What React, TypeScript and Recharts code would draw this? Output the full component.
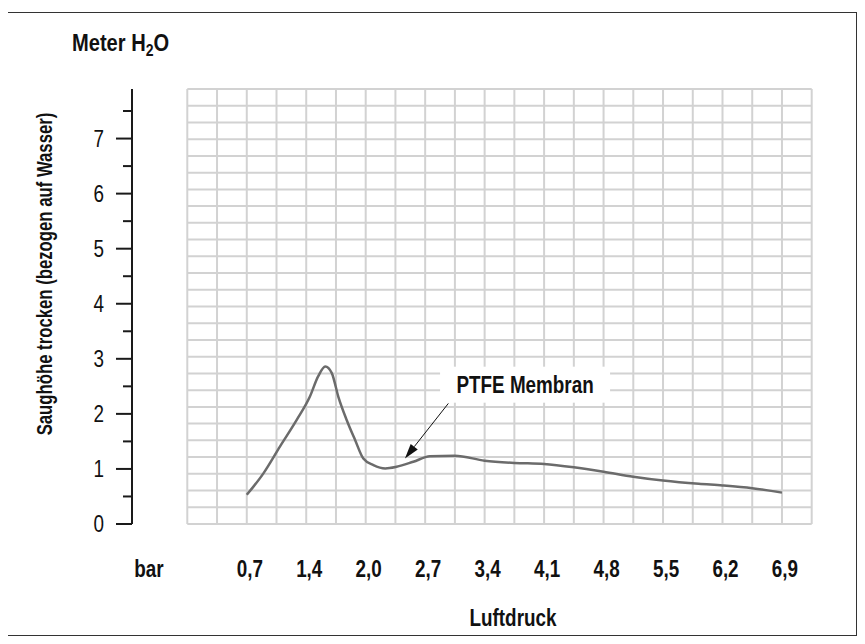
import React from 'react';
import {
  LineChart, Line, XAxis, YAxis, CartesianGrid, ReferenceLine, ReferenceDot,
} from 'recharts';

// Luftdruck in psi (equal steps), shown as bar labels
const druckPsi = [10, 12.8, 15.6, 18.4, 20.6, 22.0, 23.2, 24.3, 25.4, 26.8, 28.2, 29.6, 31.3, 33.3, 35.2, 38.0, 40.8, 45, 50, 55, 60, 65, 70, 75, 80, 86, 90, 95, 100];
// Saughöhe trocken, Meter H2O
const saughoehe = [0.53, 0.92, 1.41, 1.89, 2.31, 2.68, 2.86, 2.74, 2.31, 1.89, 1.53, 1.19, 1.07, 1.01, 1.04, 1.13, 1.23, 1.24, 1.15, 1.11, 1.09, 1.03, 0.95, 0.86, 0.79, 0.73, 0.70, 0.65, 0.57];

const xTicks = [10, 20, 30, 40, 50, 60, 70, 80, 90, 100];
const xLabels = ['0,7', '1,4', '2,0', '2,7', '3,4', '4,1', '4,8', '5,5', '6,2', '6,9'];
const yTicks = [0, 0.5, 1, 1.5, 2, 2.5, 3, 3.5, 4, 4.5, 5, 5.5, 6, 6.5, 7, 7.5];
const GRID_COLS = 21;
const GRID_ROWS = 26;

// annotation anchor points (psi, m)
const labelAt = { x: 56.8, y: 2.53 };
const arrowFrom = { x: 43.9, y: 2.19 };
const arrowTo = { x: 36.6, y: 1.19 };

const data = druckPsi.map((p, i) => ({ p, h: saughoehe[i] }));

const W = 849;
const H = 628;
const MARGIN = { top: 81, right: 45.3, bottom: 52, left: 64 };
const FONT = "'Liberation Sans', Arial, sans-serif";
const SQ = 0.82; // horizontal squeeze -> condensed look
const INK = '#111';

const Narrow = ({ x, y, anchor, bold, children }: any) => (
  <g transform={`translate(${x},${y}) scale(${SQ},1)`}>
    <text x={0} y={0} dy="0.36em" textAnchor={anchor} fontFamily={FONT}
      fontWeight={bold ? 'bold' : 'normal'} fontSize={23} fill={INK}>{children}</text>
  </g>
);

const XTick = (props: any) => {
  const { x, y, payload } = props;
  const label = xLabels[xTicks.indexOf(payload.value)];
  return <Narrow x={x + 3} y={y + 45} anchor="middle" bold>{label}</Narrow>;
};

const YTick = (props: any) => {
  const { x, y, payload } = props;
  const major = Number.isInteger(payload.value);
  return (
    <g>
      <line x1={x - (major ? 16 : 9)} x2={x} y1={y} y2={y} stroke="#1a1a1a" strokeWidth={2} />
      {major && <Narrow x={x - 28} y={y} anchor="end">{payload.value}</Narrow>}
    </g>
  );
};

const Arrow = (props: any) => {
  const { x1, y1, x2, y2 } = props;
  const ang = Math.atan2(y2 - y1, x2 - x1);
  const len = 15, half = 4.5;
  const bx = x2 - len * Math.cos(ang), by = y2 - len * Math.sin(ang);
  const nx = -Math.sin(ang) * half, ny = Math.cos(ang) * half;
  return (
    <g>
      <line x1={x1} y1={y1} x2={bx} y2={by} stroke="#111" strokeWidth={1} />
      <polygon points={`${x2},${y2} ${bx + nx},${by + ny} ${bx - nx},${by - ny}`} fill="#111" />
    </g>
  );
};

const LabelBox = (props: any) => {
  const { cx, cy } = props;
  return (
    <g>
      <rect x={cx - 85} y={cy - 18} width={170} height={36} fill="#fff" />
      <Narrow x={cx} y={cy} anchor="middle" bold>PTFE Membran</Narrow>
    </g>
  );
};

const plotBox = (args: any) =>
  args && args.offset && args.offset.width
    ? args.offset
    : {
      left: MARGIN.left + 115.3, top: MARGIN.top,
      width: W - MARGIN.left - 115.3 - MARGIN.right,
      height: H - MARGIN.top - MARGIN.bottom - 60,
    };

const vLines = (args: any) => {
  const o = plotBox(args);
  return Array.from({ length: GRID_COLS + 1 }, (_, i) => o.left + (o.width * i) / GRID_COLS);
};
const hLines = (args: any) => {
  const o = plotBox(args);
  return Array.from({ length: GRID_ROWS + 1 }, (_, i) => o.top + (o.height * i) / GRID_ROWS);
};

const txt: React.CSSProperties = {
  position: 'absolute', fontFamily: FONT, fontWeight: 'bold', fontSize: 23,
  lineHeight: 1, color: INK, whiteSpace: 'nowrap',
};

export default function App() {
  return (
    <div style={{ position: 'relative', width: W, height: H }}>
      <div style={{
        position: 'absolute', left: -1, top: 4, width: 850, height: 624,
        border: '1px solid #333', boxSizing: 'border-box',
      }} />
      <LineChart width={W} height={H} data={data} margin={MARGIN}>
        <XAxis xAxisId="main" type="number" dataKey="p" domain={[0, 105]} ticks={xTicks}
          interval={0} axisLine={false} tickLine={false} tickSize={0} tickMargin={0}
          height={60} tick={<XTick />} />
        <YAxis yAxisId="a_gap" width={55.3} axisLine={false} tickLine={false} tick={false} />
        <YAxis yAxisId="m_val" type="number" domain={[0, 7.9]} ticks={yTicks} interval={0}
          width={60} axisLine={{ stroke: '#1a1a1a', strokeWidth: 2 }} tickLine={false}
          tickSize={0} tickMargin={0} tick={<YTick />} />
        <CartesianGrid xAxisId="main" yAxisId="m_val" stroke="#d2d2d2" strokeWidth={2}
          verticalCoordinatesGenerator={vLines} horizontalCoordinatesGenerator={hLines} />
        <Line xAxisId="main" yAxisId="m_val" type="monotone" dataKey="h" stroke="#6b6b6b"
          strokeWidth={2.5} dot={false} isAnimationActive={false} />
        <ReferenceLine xAxisId="main" yAxisId="m_val" segment={[arrowFrom, arrowTo]}
          shape={<Arrow />} />
        <ReferenceDot xAxisId="main" yAxisId="m_val" x={labelAt.x} y={labelAt.y} r={1}
          shape={<LabelBox />} />
      </LineChart>
      <div style={{ ...txt, fontSize: 24.5, left: 63.7, top: 35.3, transformOrigin: 'left center', transform: `translateY(-50%) scaleX(${SQ})` }}>
        Meter H<span style={{ fontSize: '0.7em', position: 'relative', top: '0.3em' }}>2</span>O
      </div>
      <div style={{ ...txt, left: 141.3, top: 561, transform: `translate(-50%, -50%) scaleX(${SQ})` }}>bar</div>
      <div style={{ ...txt, left: 504.5, top: 610, transform: `translate(-50%, -50%) scaleX(${SQ})` }}>Luftdruck</div>
      <div style={{ ...txt, fontSize: 22, left: 37, top: 266, transform: 'translate(-50%, -50%) rotate(-90deg) scaleX(0.76)' }}>
        Saughöhe trocken (bezogen auf Wasser)
      </div>
    </div>
  );
}
